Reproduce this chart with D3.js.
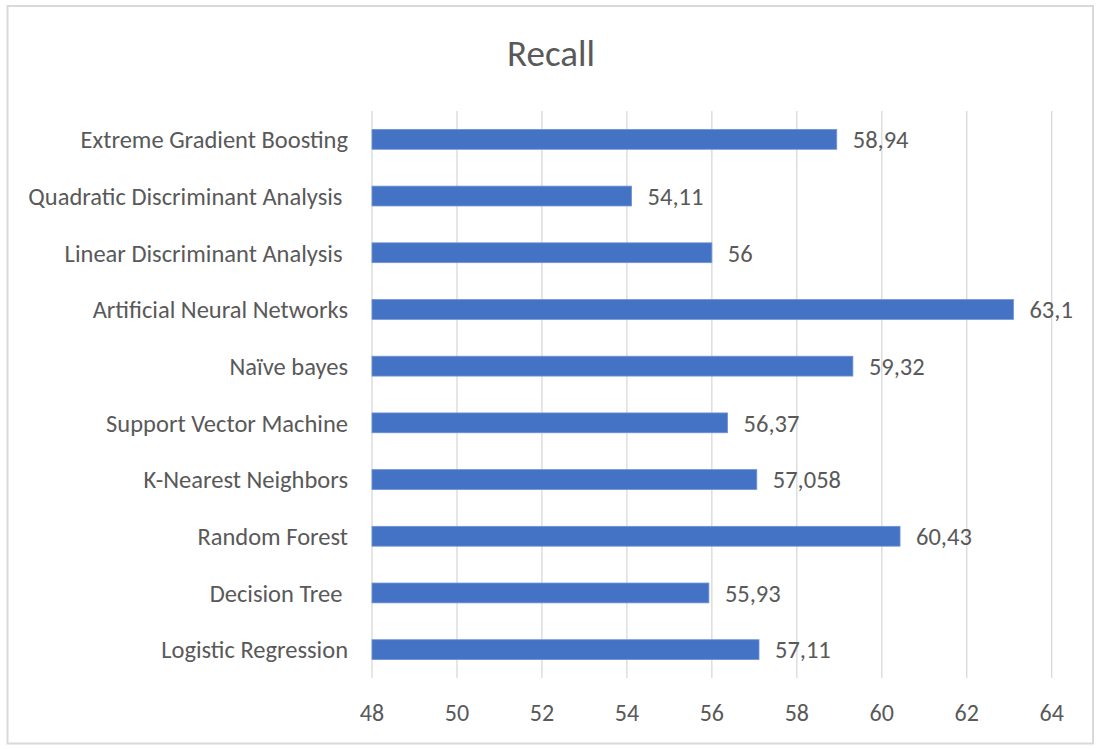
<!DOCTYPE html>
<html>
<head>
<meta charset="utf-8">
<script src="https://cdn.jsdelivr.net/npm/d3@7/dist/d3.min.js"></script>
<style>
  html, body { margin: 0; padding: 0; background: #fff; }
  svg text { font-family: Carlito, Calibri, Lato, "Open Sans", sans-serif; fill: #595959; white-space: pre; }
</style>
</head>
<body>
<svg id="chart" width="1104" height="749"></svg>
<script>
// Data (top-to-bottom order as displayed)
const categories = [
  "Extreme Gradient Boosting",
  "Quadratic Discriminant Analysis ",
  "Linear Discriminant Analysis ",
  "Artificial Neural Networks",
  "Naïve bayes",
  "Support Vector Machine",
  "K-Nearest Neighbors",
  "Random Forest",
  "Decision Tree ",
  "Logistic Regression"
];
const recallValues = [58.94, 54.11, 56, 63.1, 59.32, 56.37, 57.058, 60.43, 55.93, 57.11];
const valueLabels = ["58,94", "54,11", "56", "63,1", "59,32", "56,37", "57,058", "60,43", "55,93", "57,11"];
const xTicks = [48, 50, 52, 54, 56, 58, 60, 62, 64];
const titleText = "Recall";

const svg = d3.select("#chart");
const plot = { left: 372, right: 1051.7, top: 111, bottom: 678 };

// Outer border
svg.append("rect")
  .attr("x", 7.5).attr("y", 6)
  .attr("width", 1085.5).attr("height", 737.5)
  .attr("fill", "#fff").attr("stroke", "#D9D9D9").attr("stroke-width", 2);

const x = d3.scaleLinear().domain([48, 64]).range([plot.left, plot.right]);
const y = d3.scaleBand().domain(categories).range([plot.top, plot.bottom])
  .paddingInner(0.65).paddingOuter(0.325);

// Gridlines
svg.append("g").selectAll("line").data(xTicks).join("line")
  .attr("x1", d => x(d)).attr("x2", d => x(d))
  .attr("y1", plot.top).attr("y2", plot.bottom)
  .attr("stroke", "#D9D9D9").attr("stroke-width", 1.3);

// Bars
svg.append("g").selectAll("rect").data(categories).join("rect")
  .attr("x", x(48))
  .attr("y", d => y(d))
  .attr("width", (d, i) => x(recallValues[i]) - x(48))
  .attr("height", y.bandwidth())
  .attr("fill", "#4472C4")
  .attr("stroke", "#6F93D6").attr("stroke-width", 0.8);

// Value labels
svg.append("g").selectAll("text").data(categories).join("text")
  .attr("x", (d, i) => x(recallValues[i]) + 16)
  .attr("y", d => y(d) + y.bandwidth() / 2)
  .attr("dy", "0.36em")
  .attr("font-size", 24.5)
  .text((d, i) => valueLabels[i]);

// Category labels
svg.append("g").selectAll("text").data(categories).join("text")
  .attr("x", plot.left - 24)
  .attr("y", d => y(d) + y.bandwidth() / 2)
  .attr("dy", "0.36em")
  .attr("text-anchor", "end")
  .attr("font-size", 24.5)
  .text(d => d);

// X tick labels
svg.append("g").selectAll("text").data(xTicks).join("text")
  .attr("x", d => x(d))
  .attr("y", 712)
  .attr("dy", "0.36em")
  .attr("text-anchor", "middle")
  .attr("font-size", 24)
  .text(d => d);

// Title
svg.append("text")
  .attr("x", 551).attr("y", 66)
  .attr("text-anchor", "middle")
  .attr("font-size", 37)
  .text(titleText);
</script>
</body>
</html>
